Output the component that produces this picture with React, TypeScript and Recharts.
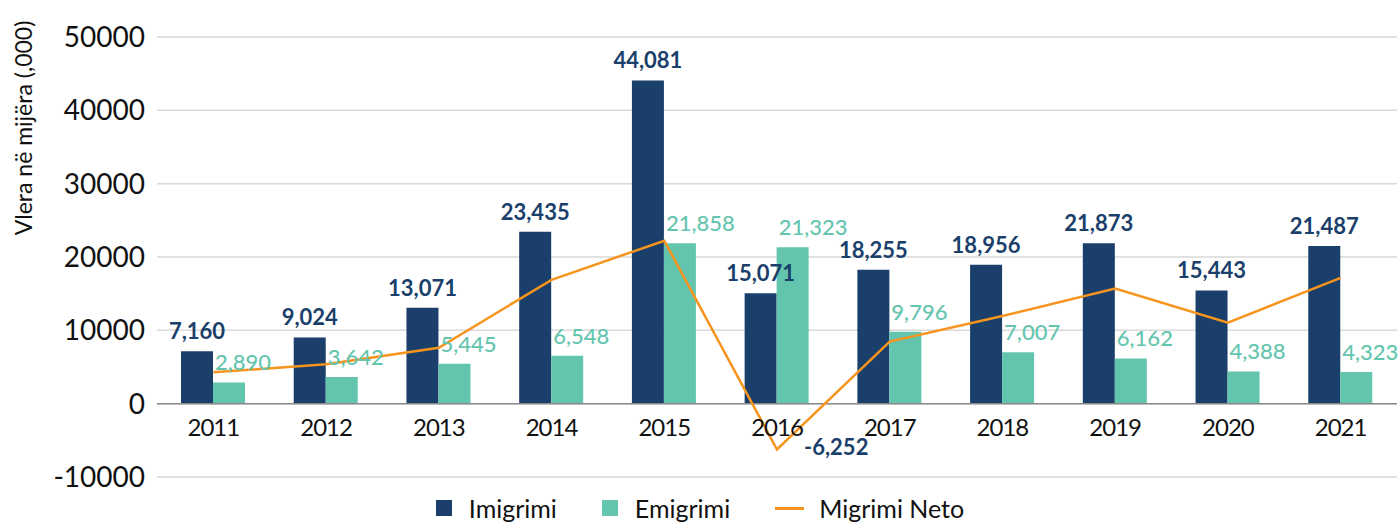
import React from 'react';
import {
  ComposedChart,
  Bar,
  Line,
  XAxis,
  YAxis,
  CartesianGrid,
  ReferenceLine,
  LabelList,
  Legend,
} from 'recharts';

const years = ['2011', '2012', '2013', '2014', '2015', '2016', '2017', '2018', '2019', '2020', '2021'];
const imigrimi = [7160, 9024, 13071, 23435, 44081, 15071, 18255, 18956, 21873, 15443, 21487];
const emigrimi = [2890, 3642, 5445, 6548, 21858, 21323, 9796, 7007, 6162, 4388, 4323];
const migrimiNeto = [4270, 5382, 7626, 16887, 22223, -6252, 8459, 11949, 15711, 11055, 17164];
const yTicks = [-10000, 0, 10000, 20000, 30000, 40000, 50000];
const seriesOrder = ['Imigrimi', 'Emigrimi', 'Migrimi Neto'];

const data = years.map((y, i) => ({
  year: y,
  Imigrimi: imigrimi[i],
  Emigrimi: emigrimi[i],
  'Migrimi Neto': migrimiNeto[i],
}));

const NAVY = '#1b3f6b';
const GREEN = '#64c5ae';
const ORANGE = '#f7941d';
const FONT = 'Lato, "Open Sans", sans-serif';

const fmt = (v: number) => v.toLocaleString('en-US');

const NavyLabel = (props: any) => {
  const { x, y, width, value } = props;
  return (
    <text x={x + width / 2} y={y - 12} textAnchor="middle" fill={NAVY} fontSize={22} fontWeight={700} fontFamily={FONT}>
      {fmt(value)}
    </text>
  );
};

const GreenLabel = (props: any) => {
  const { x, y, value } = props;
  return (
    <text x={x + 2} y={y - 12} textAnchor="start" fill={GREEN} fontSize={22} fontWeight={500} fontFamily={FONT}>
      {fmt(value)}
    </text>
  );
};

const NetLabel = (props: any) => {
  const { x, y, value } = props;
  if (value >= 0) return null;
  return (
    <text x={x + 27} y={y - 3} dominantBaseline="central" textAnchor="start" fill={NAVY} fontSize={22} fontWeight={700} fontFamily={FONT}>
      {fmt(value)}
    </text>
  );
};

const YearTick = (props: any) => {
  const { x, y, payload } = props;
  return (
    <text x={x} y={y - 59} dominantBaseline="central" textAnchor="middle" fill="#111" fontSize={24} letterSpacing={-1} fontFamily={FONT}>
      {payload.value}
    </text>
  );
};

const LegendContent = (props: any) => {
  const payload = [...(props.payload || [])].sort(
    (a: any, b: any) => seriesOrder.indexOf(a.value) - seriesOrder.indexOf(b.value)
  );
  return (
    <div style={{ display: 'flex', justifyContent: 'center', alignItems: 'center', height: 24, fontFamily: FONT }}>
      {payload.map((p: any, i: number) => (
        <div key={i} style={{ display: 'flex', alignItems: 'center', marginRight: i < payload.length - 1 ? 45 : 0 }}>
          {p.type === 'line' ? (
            <div style={{ width: 29, height: 3, background: p.color, marginRight: 15 }} />
          ) : (
            <div style={{ width: 16, height: 16, background: p.color, marginRight: 17 }} />
          )}
          <span style={{ fontSize: 25, color: '#111', lineHeight: '24px' }}>{p.value}</span>
        </div>
      ))}
    </div>
  );
};

const YLabel = (props: any) => {
  const { viewBox } = props;
  const cx = viewBox.x + 23;
  const cy = viewBox.y + 91;
  return (
    <text
      x={cx}
      y={cy}
      transform={`rotate(-90, ${cx}, ${cy})`}
      textAnchor="middle"
      dominantBaseline="central"
      fill="#111"
      fontSize={23}
      fontFamily={FONT}
    >
      Vlera në mijëra (,000)
    </text>
  );
};

export default function App() {
  return (
    <div style={{ position: 'absolute', left: 0, top: 0, width: 1400, height: 524, overflow: 'hidden', background: '#fff' }}>
      <ComposedChart
        width={1400}
        height={524}
        data={data}
        margin={{ top: 37, right: 3, bottom: 0, left: 0 }}
        barGap={0}
        style={{ fontFamily: FONT }}
      >
        <CartesianGrid vertical={false} stroke="#d9d9d9" strokeWidth={1.5} />
        <XAxis dataKey="year" axisLine={false} tickLine={false} height={23} tick={<YearTick />} interval={0} />
        <YAxis
          domain={[-10000, 50000]}
          ticks={yTicks}
          width={157}
          axisLine={false}
          tickLine={false}
          tickMargin={6}
          tick={{ fill: '#111', fontSize: 28, fontFamily: FONT }}
          label={<YLabel />}
        />
        <ReferenceLine y={0} stroke="#8a8a8a" strokeWidth={1.5} />
        <Bar dataKey="Imigrimi" fill={NAVY} barSize={32} isAnimationActive={false}>
          <LabelList dataKey="Imigrimi" content={<NavyLabel />} />
        </Bar>
        <Bar dataKey="Emigrimi" fill={GREEN} barSize={32} isAnimationActive={false}>
          <LabelList dataKey="Emigrimi" content={<GreenLabel />} />
        </Bar>
        <Line
          dataKey="Migrimi Neto"
          type="linear"
          stroke={ORANGE}
          strokeWidth={2.5}
          dot={false}
          legendType="line"
          isAnimationActive={false}
        >
          <LabelList dataKey="Migrimi Neto" content={<NetLabel />} />
        </Line>
        <Legend
          verticalAlign="bottom"
          content={<LegendContent />}
          wrapperStyle={{ top: 496, left: 0, width: 1400 }}
        />
      </ComposedChart>
    </div>
  );
}
